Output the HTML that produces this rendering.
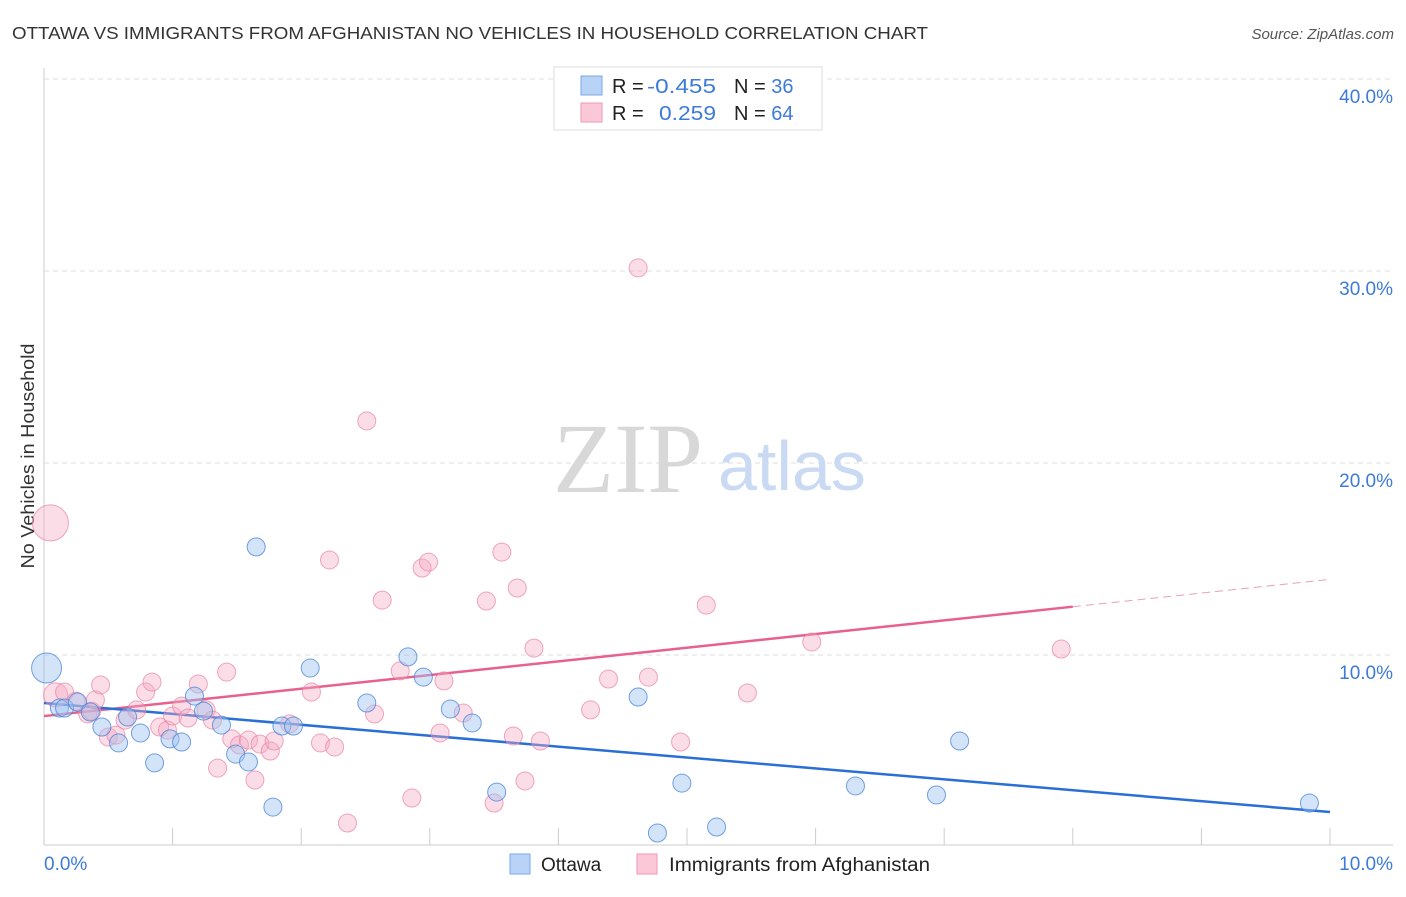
<!DOCTYPE html>
<html><head><meta charset="utf-8"><style>
body{margin:0;background:#fff;font-family:"Liberation Sans",sans-serif;}
</style></head><body>
<svg id="chart" width="1406" height="892" xmlns="http://www.w3.org/2000/svg" font-family="Liberation Sans, sans-serif">
<text x="12" y="39" font-size="17.5" fill="#333" textLength="916" lengthAdjust="spacingAndGlyphs">OTTAWA VS IMMIGRANTS FROM AFGHANISTAN NO VEHICLES IN HOUSEHOLD CORRELATION CHART</text>
<text x="1394" y="39" font-size="15" fill="#555" font-style="italic" text-anchor="end">Source: ZipAtlas.com</text>
<g id="grid"></g>
<g>
<text x="553" y="492" font-size="100" fill="#d8d8d8" style="font-family:'Liberation Serif',serif">ZIP</text>
<text x="718" y="490" font-size="70" fill="#c9daf2">atlas</text>
</g>
<line x1="44" y1="68" x2="44" y2="845" stroke="#ccc"/>
<line x1="44" y1="845" x2="1393" y2="845" stroke="#ccc"/>
<text transform="translate(34,456) rotate(-90)" font-size="18.5" fill="#333" text-anchor="middle" textLength="225" lengthAdjust="spacingAndGlyphs">No Vehicles in Household</text>
<text x="44" y="870" font-size="19" fill="#3d7bd6">0.0%</text>
<text x="1393" y="870" font-size="19" fill="#3d7bd6" text-anchor="end">10.0%</text>
<g id="lines"></g>
<g id="points"></g>
<g>
<rect x="554" y="67" width="268" height="63" fill="#fff" stroke="#ddd"/>
<rect x="581" y="76" width="21" height="19" fill="#b8d3f5" stroke="#7aa7e4"/>
<rect x="581" y="103" width="21" height="19" fill="#fac8d7" stroke="#ef9ab4"/>
<text x="612" y="93" font-size="20" fill="#222">R =</text>
<text x="647" y="93" font-size="20" fill="#3d7bd6" textLength="69" lengthAdjust="spacingAndGlyphs">-0.455</text>
<text x="734" y="93" font-size="20" fill="#222">N = <tspan fill="#3d7bd6">36</tspan></text>
<text x="612" y="120" font-size="20" fill="#222">R =</text>
<text x="659" y="120" font-size="20" fill="#3d7bd6" textLength="57" lengthAdjust="spacingAndGlyphs">0.259</text>
<text x="734" y="120" font-size="20" fill="#222">N = <tspan fill="#3d7bd6">64</tspan></text>
</g>
<g>
<rect x="510" y="854" width="20" height="20" fill="#b8d3f5" stroke="#7aa7e4"/>
<text x="541" y="871" font-size="19" fill="#222">Ottawa</text>
</g>
<g>
<rect x="637" y="854" width="20" height="20" fill="#fac8d7" stroke="#ef9ab4"/>
<text x="669" y="871" font-size="19" fill="#222" textLength="261" lengthAdjust="spacingAndGlyphs">Immigrants from Afghanistan</text>
</g>
</svg>
<script>
const yTicks=[10,20,30,40];
const yTickLabels=["10.0%","20.0%","30.0%","40.0%"];
const xTicks=[1,2,3,4,5,6,7,8,9,10];
const blueX=[0.02,0.12,0.16,0.26,0.36,0.45,0.58,0.65,0.75,0.86,0.98,1.07,1.17,1.24,1.38,1.49,1.59,1.65,1.78,1.85,1.94,2.07,2.51,2.83,2.95,3.16,3.33,3.52,4.62,4.77,4.96,5.23,6.31,6.94,7.12,9.84];
const blueY=[9.32,7.24,7.24,7.55,7.03,6.25,5.42,6.77,5.94,4.38,5.63,5.47,7.86,7.08,6.35,4.84,4.43,15.63,2.08,6.30,6.30,9.32,7.50,9.90,8.85,7.19,6.46,2.86,7.81,0.73,3.33,1.04,3.18,2.71,5.52,2.29];
const pinkX=[0.05,0.09,0.16,0.25,0.34,0.37,0.40,0.44,0.50,0.56,0.63,0.72,0.79,0.84,0.90,0.96,1.00,1.07,1.12,1.20,1.26,1.31,1.35,1.42,1.46,1.52,1.59,1.64,1.68,1.76,1.79,1.91,2.08,2.15,2.22,2.26,2.36,2.51,2.57,2.63,2.77,2.86,2.94,2.99,3.08,3.11,3.26,3.44,3.50,3.56,3.65,3.68,3.74,3.81,3.86,4.25,4.39,4.62,4.70,4.95,5.15,5.47,5.97,7.91];
const pinkY=[16.88,7.92,8.07,7.60,6.93,7.08,7.66,8.44,5.73,5.83,6.61,7.14,8.07,8.59,6.25,6.09,6.82,7.34,6.72,8.49,7.14,6.61,4.11,9.11,5.63,5.31,5.57,3.49,5.36,5.00,5.52,6.41,8.07,5.42,14.95,5.21,1.25,22.19,6.93,12.86,9.17,2.55,14.53,14.84,5.94,8.65,6.98,12.81,2.29,15.36,5.78,13.49,3.44,10.36,5.52,7.14,8.75,30.16,8.85,5.47,12.60,8.02,10.68,10.31];
const blueTrend=[7.50,1.82];
const pinkTrend=[6.82,13.94];
const pinkSolidEnd=8.0;
const NS="http://www.w3.org/2000/svg";
const xs=v=>44+v*128.6;
const ys=v=>847-v*19.2;
function mk(tag,attrs,parent){const e=document.createElementNS(NS,tag);for(const k in attrs)e.setAttribute(k,attrs[k]);parent.appendChild(e);return e;}
const grid=document.getElementById('grid');
yTicks.forEach((t,i)=>{
  const l=mk('line',{x1:44,x2:1393,y1:ys(t),y2:ys(t),stroke:'#ddd','stroke-dasharray':'5,4'},grid);
  
  
  const tx=mk('text',{x:1393,y:ys(t)+24,'font-size':19,fill:'#3d7bd6','text-anchor':'end'},grid);
  tx.textContent=yTickLabels[i];
  
  
});
xTicks.forEach(t=>{
  const l=mk('line',{x1:xs(t),x2:xs(t),y1:828,y2:845,stroke:'#ccc'},grid);
  
  
});
const pts=document.getElementById('points');
pinkX.forEach((x,i)=>{
  const r=i===0?18:(i===1?12:9);
  const c=mk('circle',{cx:xs(x),cy:ys(pinkY[i]),r:r,fill:'rgba(246,170,195,0.4)',stroke:'rgba(232,130,165,0.7)','stroke-width':1},pts);
  
  
});
blueX.forEach((x,i)=>{
  const r=i===0?15:9;
  const c=mk('circle',{cx:xs(x),cy:ys(blueY[i]),r:r,fill:'rgba(160,195,240,0.45)',stroke:'rgba(70,130,215,0.75)','stroke-width':1},pts);
  
  
});
const lines=document.getElementById('lines');
const pv=x=>pinkTrend[0]+(pinkTrend[1]-pinkTrend[0])*x/10;
let l1=mk('line',{x1:xs(0),y1:ys(pv(0)),x2:xs(pinkSolidEnd),y2:ys(pv(pinkSolidEnd)),stroke:'#e8608e','stroke-width':2.5},lines);


let l2=mk('line',{x1:xs(pinkSolidEnd),y1:ys(pv(pinkSolidEnd)),x2:xs(10),y2:ys(pv(10)),stroke:'#e8a0b8','stroke-width':1,'stroke-dasharray':'8,5'},lines);


let l3=mk('line',{x1:xs(0),y1:ys(blueTrend[0]),x2:xs(10),y2:ys(blueTrend[1]),stroke:'#2a6fd6','stroke-width':2.5},lines);


</script>
</body></html>
